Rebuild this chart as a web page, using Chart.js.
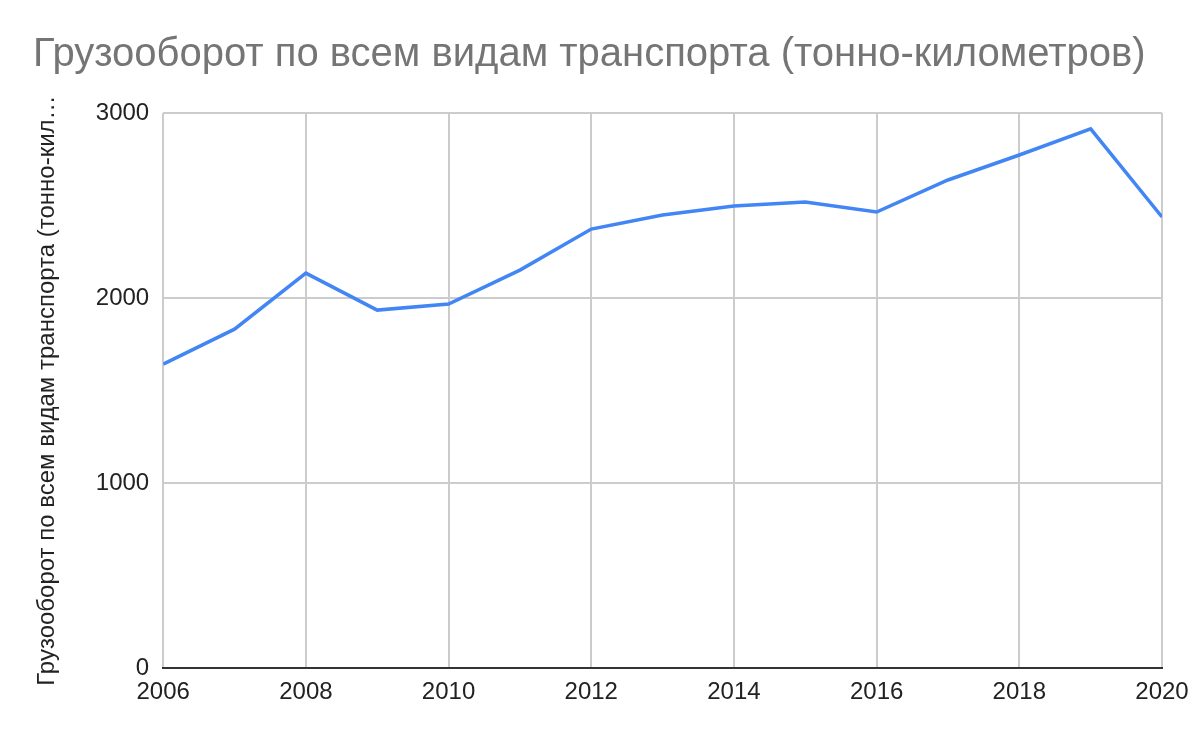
<!DOCTYPE html>
<html>
<head>
<meta charset="utf-8">
<script src="https://cdn.jsdelivr.net/npm/chart.js@4/dist/chart.umd.min.js"></script>
<style>
  html, body { margin: 0; padding: 0; background: #fff; }
  #wrap { width: 1200px; height: 742px; }
</style>
</head>
<body>
<div id="wrap"><canvas id="freight"></canvas></div>
<script>
var years = [2006, 2007, 2008, 2009, 2010, 2011, 2012, 2013, 2014, 2015, 2016, 2017, 2018, 2019, 2020];
var freight = [1643, 1832, 2135, 1935, 1968, 2151, 2373, 2449, 2497, 2519, 2465, 2638, 2773, 2914, 2438];
var yTicks = [0, 1000, 2000, 3000];

var points = years.map(function (y, i) { return { x: y, y: freight[i] }; });
var fontFamily = 'Liberation Sans, Arial, sans-serif';

var ctx = document.getElementById("freight").getContext('2d');
var chart = new Chart(ctx, {
  type: 'line',
  data: {
    datasets: [{
      label: 'Грузооборот по всем видам транспорта (тонно-километров)',
      data: points,
      borderColor: '#4285f4',
      borderWidth: 3.5,
      pointRadius: 0,
      tension: 0,
      fill: false
    }]
  },
  options: {
    responsive: true,
    maintainAspectRatio: false,
    animation: false,
    layout: { padding: { left: 33, right: 38, top: 0, bottom: 25 } },
    plugins: {
      legend: { display: false },
      tooltip: { enabled: false },
      title: {
        display: true,
        text: 'Грузооборот по всем видам транспорта (тонно-километров)',
        align: 'start',
        color: '#757575',
        font: { family: fontFamily, size: 40, weight: 'normal' },
        padding: { top: 31, bottom: 34 }
      }
    },
    scales: {
      x: {
        type: 'linear',
        min: 2006,
        max: 2020,
        ticks: {
          stepSize: 2,
          color: '#222',
          padding: 10,
          maxRotation: 0,
          font: { family: fontFamily, size: 24 },
          callback: function (v) { return String(v); }
        },
        grid: { color: '#cccccc', lineWidth: 2, drawTicks: false },
        border: { display: true, color: '#333333', width: 2 }
      },
      y: {
        min: 0,
        max: 3000,
        afterBuildTicks: function (axis) {
          axis.ticks = yTicks.map(function (v) { return { value: v }; });
        },
        ticks: {
          color: '#222',
          padding: 14,
          font: { family: fontFamily, size: 24 },
          callback: function (v) { return String(v); }
        },
        grid: { color: '#cccccc', lineWidth: 2, drawTicks: false },
        border: { display: false },
        title: {
          display: true,
          text: 'Грузооборот по всем видам транспорта (тонно-кил…',
          color: '#222',
          padding: { top: 0, bottom: 20 },
          font: { family: fontFamily, size: 24 }
        }
      }
    }
  }
});
</script>
</body>
</html>
